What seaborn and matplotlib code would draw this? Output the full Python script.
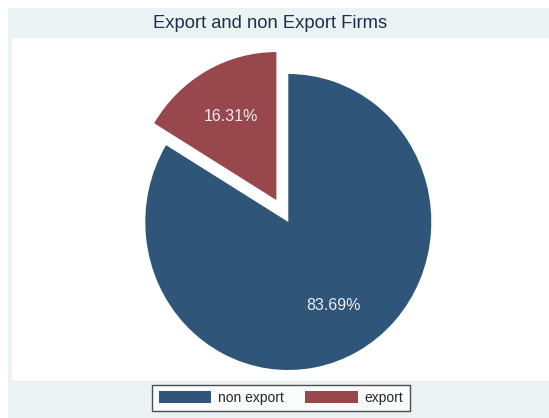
import matplotlib
matplotlib.use("Agg")
import matplotlib.pyplot as plt
from matplotlib.patches import Rectangle, Patch
import seaborn as sns

# Data
categories = ["non export", "export"]
shares = [83.69, 16.31]
labels_pct = ["83.69%", "16.31%"]

sns.set_theme(style="white")
plt.rcParams["font.family"] = ["Liberation Sans", "DejaVu Sans"]

colors = sns.color_palette(["#2f5578", "#98474c"])

W, H = 549, 418
fig = plt.figure(figsize=(W / 100, H / 100), dpi=100)
fig.patch.set_facecolor("white")

def px_rect(x0, y0, x1, y1, color):
    # rectangle given in pixel coordinates measured from the top-left corner
    r = Rectangle((x0 / W, 1 - y1 / H), (x1 - x0) / W, (y1 - y0) / H,
                  transform=fig.transFigure, facecolor=color, edgecolor="none",
                  zorder=-10)
    fig.add_artist(r)

# graph region and plot region backgrounds
px_rect(8, 8, W, H, "#eaf2f3")
px_rect(12, 38, W, 381, "white")

# pie axes: one radius unit = 143 px horizontally, 148 px vertically
rx, ry = 143, 148
cx, cy = 288.3, 222
lim = 1.25
ax_w, ax_h = 2 * lim * rx, 2 * lim * ry
ax = fig.add_axes([(cx - ax_w / 2) / W, 1 - (cy + ax_h / 2) / H, ax_w / W, ax_h / H])
ax.set_facecolor("none")

wedges, _ = ax.pie(shares, colors=colors, startangle=90, counterclock=False,
                   explode=[0, 0.17], wedgeprops=dict(linewidth=0))
ax.set_aspect("auto")
ax.set_xlim(-lim, lim)
ax.set_ylim(-lim, lim)
ax.axis("off")

# percentage labels placed along each wedge's bisector
import numpy as np
start = 90.0
explode = [0, 0.17]
for w, lab, ex in zip(wedges, labels_pct, explode):
    mid = np.deg2rad((w.theta1 + w.theta2) / 2)
    r = 0.65 + ex
    ax.text(r * np.cos(mid), r * np.sin(mid), lab, ha="center", va="center",
            color="#eeeef2", fontsize=11.5)

fig.text(270 / W, 1 - 24 / H, "Export and non Export Firms", ha="center",
         va="center", fontsize=13.2, color="#1f2e4c")

handles = [Patch(facecolor=c, edgecolor="none") for c in colors]
leg = fig.legend(handles, categories, loc="center", ncol=2,
                 bbox_to_anchor=(281 / W, 1 - 398 / H), fontsize=10,
                 frameon=True, fancybox=False, edgecolor="#222222",
                 handlelength=3.8, handleheight=0.95, handletextpad=0.5,
                 columnspacing=1.5, borderpad=0.45, borderaxespad=0)
leg.get_frame().set_linewidth(1.0)
leg.get_frame().set_facecolor("white")

fig.savefig("out.png", dpi=100)
